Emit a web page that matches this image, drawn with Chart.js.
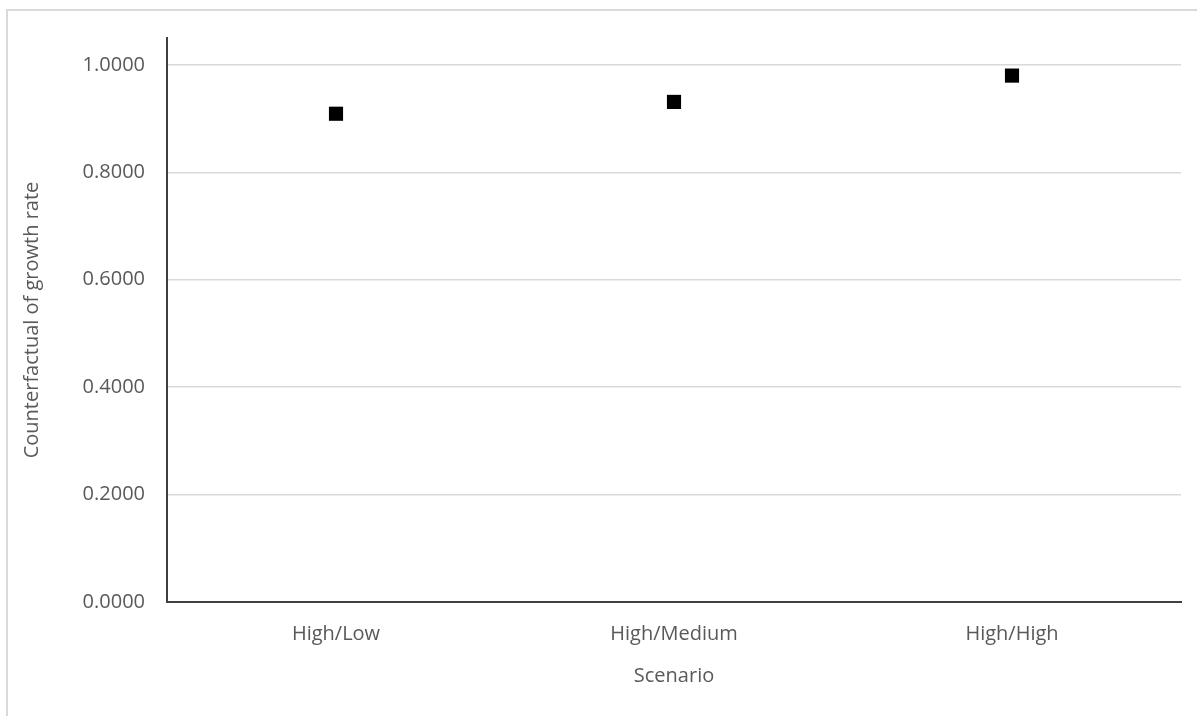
<!DOCTYPE html>
<html>
<head>
<meta charset="utf-8">
<script src="https://cdn.jsdelivr.net/npm/chart.js@4"></script>
<style>
  html, body { margin: 0; padding: 0; background: #fff; overflow: hidden; }
  #frame {
    position: absolute; left: 6px; top: 9px; width: 1200px; height: 720px;
    border: 2px solid #d9d9d9; box-sizing: border-box;
  }
  #wrap { position: absolute; left: 0; top: 0; width: 1197px; height: 716px; }
</style>
</head>
<body>
<div id="frame"></div>
<div id="wrap"><canvas id="chart" width="1197" height="716"></canvas></div>
<script>
  // chart data
  const scenarios = ['High/Low', 'High/Medium', 'High/High'];
  const growthRate = [0.909, 0.931, 0.980];
  const yTicks = [0, 0.2, 0.4, 0.6, 0.8, 1.0];

  const FONT = 'Open Sans';
  const GREY = '#595959';

  new Chart(document.getElementById('chart'), {
    type: 'line',
    data: {
      labels: scenarios,
      datasets: [{
        data: growthRate,
        showLine: false,
        pointStyle: 'rect',
        pointRadius: 10,
        pointHoverRadius: 10,
        pointBackgroundColor: '#000',
        pointBorderColor: '#000',
        pointBorderWidth: 0
      }]
    },
    options: {
      responsive: false,
      animation: false,
      layout: { padding: { left: 20, top: 38, right: 16, bottom: 20 } },
      plugins: {
        legend: { display: false },
        tooltip: { enabled: false }
      },
      scales: {
        x: {
          type: 'category',
          offset: true,
          grid: { display: false, drawTicks: false },
          border: { display: true, color: '#404040', width: 2 },
          ticks: { padding: 20, color: GREY, font: { family: FONT, size: 20 } },
          title: {
            display: true, text: 'Scenario', color: GREY,
            font: { family: FONT, size: 20 }, padding: { top: 0, bottom: 8 }
          },
          afterFit: function(scale) { scale.height = 94; }
        },
        y: {
          min: 0,
          max: 1.05,
          afterBuildTicks: function(scale) {
            scale.ticks = yTicks.map(function(v) { return { value: v }; });
          },
          grid: { color: '#d9d9d9', lineWidth: 1.5, drawTicks: false },
          border: { display: true, color: '#404040', width: 2 },
          ticks: {
            padding: 22, color: GREY, font: { family: FONT, size: 20 },
            callback: function(v) { return Number(v).toFixed(4); }
          },
          title: {
            display: true, text: 'Counterfactual of growth rate', color: GREY,
            font: { family: FONT, size: 20 }, padding: { top: 0, bottom: 2 }
          },
          afterFit: function(scale) { scale.width = 147; }
        }
      }
    }
  });
</script>
</body>
</html>
